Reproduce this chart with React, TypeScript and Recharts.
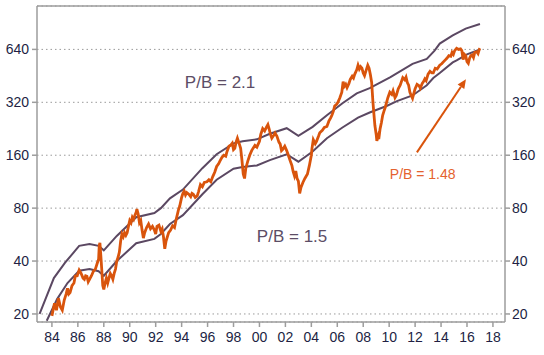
import { LineChart, Line, XAxis, YAxis, CartesianGrid, ReferenceLine, ReferenceDot } from 'recharts';

// axis ticks
const yearTicks = [1984, 1986, 1988, 1990, 1992, 1994, 1996, 1998, 2000, 2002, 2004, 2006, 2008, 2010, 2012, 2014, 2016, 2018];
const valueTicks = [20, 40, 80, 160, 320, 640];

// index level (orange)
const priceYears = [
  1984.0, 1984.2, 1984.35, 1984.5, 1984.65, 1984.8, 1984.95, 1985.1, 1985.2, 1985.3, 1985.4, 1985.55, 1985.7, 1985.8, 1985.95,
  1986.1, 1986.25, 1986.4, 1986.5, 1986.6, 1986.7, 1986.8, 1986.9, 1987.05, 1987.2, 1987.35, 1987.5, 1987.6, 1987.65, 1987.7,
  1987.78, 1987.85, 1987.92, 1988.0, 1988.1, 1988.2, 1988.3, 1988.4, 1988.5, 1988.6, 1988.7, 1988.8, 1988.9, 1989.0, 1989.1,
  1989.2, 1989.3, 1989.4, 1989.5, 1989.6, 1989.7, 1989.8, 1989.9, 1990.0, 1990.1, 1990.2, 1990.3, 1990.4, 1990.5, 1990.55,
  1990.65, 1990.75, 1990.85, 1990.95, 1991.05, 1991.15, 1991.3, 1991.45, 1991.6, 1991.75, 1991.9, 1992.0, 1992.1, 1992.25, 1992.4,
  1992.5, 1992.6, 1992.7, 1992.8, 1992.9, 1993.0, 1993.15, 1993.3, 1993.45, 1993.6, 1993.75, 1993.85, 1994.0, 1994.1, 1994.2,
  1994.3, 1994.4, 1994.55, 1994.7, 1994.8, 1994.9, 1995.05, 1995.2, 1995.3, 1995.45, 1995.6, 1995.75, 1995.95, 1996.1, 1996.25,
  1996.4, 1996.55, 1996.7, 1996.85, 1996.95, 1997.1, 1997.25, 1997.4, 1997.5, 1997.65, 1997.8, 1997.9, 1998.0, 1998.1, 1998.2,
  1998.3, 1998.45, 1998.55, 1998.65, 1998.75, 1998.85, 1998.95, 1999.1, 1999.25, 1999.4, 1999.5, 1999.65, 1999.8, 2000.0, 2000.1,
  2000.25, 2000.4, 2000.55, 2000.65, 2000.75, 2000.85, 2000.95, 2001.1, 2001.2, 2001.35, 2001.5, 2001.6, 2001.7, 2001.8, 2001.95,
  2002.1, 2002.2, 2002.35, 2002.5, 2002.6, 2002.7, 2002.8, 2002.9, 2003.0, 2003.1, 2003.2, 2003.35, 2003.5, 2003.7, 2003.85,
  2004.0, 2004.05, 2004.15, 2004.3, 2004.4, 2004.55, 2004.65, 2004.85, 2005.0, 2005.2, 2005.35, 2005.5, 2005.6, 2005.7, 2005.8,
  2005.95, 2006.05, 2006.2, 2006.35, 2006.45, 2006.55, 2006.65, 2006.75, 2006.9, 2007.0, 2007.15, 2007.25, 2007.35, 2007.5, 2007.6,
  2007.7, 2007.8, 2007.9, 2008.0, 2008.1, 2008.2, 2008.35, 2008.45, 2008.55, 2008.65, 2008.75, 2008.85, 2008.9, 2009.0, 2009.05,
  2009.15, 2009.2, 2009.3, 2009.4, 2009.5, 2009.6, 2009.7, 2009.8, 2009.9, 2010.05, 2010.2, 2010.3, 2010.45, 2010.55, 2010.7,
  2010.85, 2011.05, 2011.2, 2011.3, 2011.4, 2011.5, 2011.6, 2011.7, 2011.8, 2011.9, 2012.0, 2012.15, 2012.3, 2012.4, 2012.55,
  2012.65, 2012.75, 2012.85, 2013.0, 2013.15, 2013.3, 2013.4, 2013.55, 2013.7, 2013.9, 2014.05, 2014.2, 2014.35, 2014.45, 2014.6,
  2014.75, 2014.85, 2014.95, 2015.05, 2015.2, 2015.35, 2015.5, 2015.6, 2015.7, 2015.8, 2015.9, 2016.0, 2016.1, 2016.2, 2016.3,
  2016.4, 2016.5, 2016.6, 2016.75, 2016.85, 2016.95, 2017.0,
];
const priceValues = [
  19.5, 23, 21, 24.6, 22, 21, 24, 26, 28, 26, 26.5, 29, 30, 32.8, 33,
  35.5, 34, 32, 31.5, 33, 32.8, 30.5, 31.5, 33, 35, 36, 39, 41, 49, 50.7,
  42, 35, 29, 27.6, 30, 32, 30, 32, 34, 33, 31.5, 34, 36, 40, 42,
  45, 52, 57, 55, 58, 56, 58, 63, 68, 66, 71, 69, 73, 76, 79,
  74, 66, 68, 60, 54, 58, 62, 65, 61, 63, 60, 57, 63, 64, 59,
  61, 55, 47, 52, 55, 58, 60, 63.5, 62, 70, 78, 82, 92, 97, 100,
  95, 98, 96, 93, 97, 96, 92, 94, 99, 109, 106, 112, 113, 116, 113,
  121, 128, 138, 143, 148, 155, 160, 158, 168, 180, 183, 187, 172, 175, 190,
  200, 185, 175, 150, 125, 118, 135, 148, 160, 170, 175, 182, 178, 192, 210,
  227, 220, 232, 239, 225, 210, 200, 208, 214, 205, 190, 185, 170, 173, 180,
  170, 162, 150, 140, 129, 122, 130, 118, 114, 97, 105, 112, 118, 125, 140,
  160, 175, 196, 186, 192, 205, 215, 222, 230, 233, 250, 262, 272, 285, 305,
  312, 320, 340, 365, 420, 395, 405, 388, 410, 432, 450, 440, 463, 490, 520,
  495, 510, 500, 470, 454, 480, 520, 500, 460, 415, 320, 260, 236, 210, 193,
  205, 198, 226, 245, 270, 285, 300, 320, 340, 365, 355, 372, 340, 350, 382,
  400, 442, 430, 445, 415, 400, 365, 350, 337, 360, 382, 405, 398, 385, 410,
  420, 435, 425, 463, 480, 470, 470, 500, 495, 520, 530, 545, 560, 570, 590,
  585, 615, 600, 630, 650, 640, 645, 630, 560, 600, 590, 545, 533, 570, 590,
  595, 575, 615, 620, 605, 640, 650,
];

// P/B = 2.1 band
const upperYears = [1983.05, 1984.15, 1985.0, 1986.1, 1986.9, 1987.6, 1988.0, 1989.0, 1990.5, 1991.9, 1992.4, 1993.1, 1994.1, 1995.6, 1996.7, 1998.0, 1998.7, 1999.8, 2000.8, 2002.1, 2003.0, 2004.1, 2005.2, 2006.4, 2007.5, 2008.5, 2010.1, 2011.8, 2012.9, 2013.5, 2013.9, 2014.9, 2015.9, 2017.0];
const upperValues = [20, 32, 39, 48.8, 50, 48.8, 46, 55.6, 71, 75, 80, 91, 102, 135, 162, 187, 192, 197, 212, 228, 206, 232, 270, 316, 360, 385, 445, 530, 565, 630, 691, 768, 840, 893];

// P/B = 1.5 band
const lowerYears = [1983.6, 1984.4, 1985.2, 1986.1, 1986.9, 1987.6, 1988.0, 1989.0, 1990.5, 1991.9, 1992.4, 1993.1, 1994.1, 1995.6, 1996.7, 1998.0, 1998.7, 1999.8, 2000.8, 2002.1, 2003.0, 2004.1, 2005.2, 2006.4, 2007.6, 2008.5, 2009.8, 2010.6, 2011.8, 2012.9, 2013.4, 2013.9, 2014.9, 2015.2, 2016.0, 2017.0];
const lowerValues = [18.3, 24.3, 30, 35.2, 36, 35, 33, 40, 50.5, 53.5, 57, 65, 73, 96, 116, 134, 137, 140, 150, 162, 147, 168, 200, 230, 262, 280, 305, 325, 350, 400, 440, 470, 540, 555, 600, 640];

const toPoints = (xs: number[], ys: number[]) => xs.map((x, i) => ({ year: x, value: ys[i] }));

const FONT = '"Liberation Sans", Arial, sans-serif';
const ORANGE = '#d9540c';
const PURPLE = '#5b4862';
const FRAME = '#9d9d9d';
const tickStyle = { fill: '#221f44', fontSize: 14, fontFamily: FONT };

const Arrow = (props: any) => {
  const { x1, y1, x2, y2 } = props;
  const ang = Math.atan2(y2 - y1, x2 - x1);
  const len = 9;
  const w = 4;
  const bx = x2 - len * Math.cos(ang);
  const by = y2 - len * Math.sin(ang);
  const px = -Math.sin(ang) * w;
  const py = Math.cos(ang) * w;
  return (
    <g>
      <line x1={x1} y1={y1} x2={bx} y2={by} stroke={ORANGE} strokeWidth={2} />
      <polygon points={`${x2},${y2} ${bx + px},${by + py} ${bx - px},${by - py}`} fill={ORANGE} />
    </g>
  );
};

const note = (text: string, color: string, size: number) => (p: any) => (
  <text x={p.cx} y={p.cy} fill={color} fontSize={size} fontFamily={FONT}>{text}</text>
);

export default function App() {
  return (
    <div style={{ position: 'absolute', left: 0, top: 0, width: 544, height: 355, background: '#fff' }}>
      <LineChart width={544} height={355} margin={{ top: 6, right: 0, bottom: 0, left: 0 }}>
        <CartesianGrid yAxisId="left" vertical={false} stroke="#9a9a9a" strokeDasharray="1.5 3" />
        <XAxis
          dataKey="year"
          type="number"
          domain={[1982.85, 2018.93]}
          allowDataOverflow
          ticks={yearTicks}
          tickFormatter={(v: number) => String(v % 100).padStart(2, '0')}
          height={33}
          stroke={FRAME}
          strokeWidth={1.5}
          tickSize={5}
          tickMargin={5}
          tick={tickStyle}
        />
        <YAxis
          yAxisId="left"
          scale="log"
          domain={[18, 1130]}
          allowDataOverflow
          ticks={valueTicks}
          width={37}
          stroke={FRAME}
          strokeWidth={1.5}
          tickSize={5}
          tickMargin={3}
          tick={tickStyle}
        />
        <YAxis
          yAxisId="right"
          orientation="right"
          scale="log"
          domain={[18, 1130]}
          allowDataOverflow
          ticks={valueTicks}
          width={39}
          stroke={FRAME}
          strokeWidth={1.5}
          tickSize={5}
          tickMargin={2}
          tick={tickStyle}
        />
        <ReferenceLine yAxisId="left" y={1130} stroke={FRAME} strokeWidth={1.5} />
        <Line yAxisId="left" data={toPoints(upperYears, upperValues)} dataKey="value" stroke={PURPLE} strokeWidth={2} dot={false} isAnimationActive={false} />
        <Line yAxisId="left" data={toPoints(lowerYears, lowerValues)} dataKey="value" stroke={PURPLE} strokeWidth={2} dot={false} isAnimationActive={false} />
        <Line yAxisId="left" data={toPoints(priceYears, priceValues)} dataKey="value" stroke={ORANGE} strokeWidth={2.8} dot={false} isAnimationActive={false} />
        <ReferenceDot yAxisId="left" x={1994.25} y={388} r={0} shape={note('P/B = 2.1', '#5c4d66', 17)} />
        <ReferenceDot yAxisId="left" x={1999.8} y={51.4} r={0} shape={note('P/B = 1.5', '#5c4d66', 17)} />
        <ReferenceDot yAxisId="left" x={2010.05} y={117} r={0} shape={note('P/B = 1.48', '#e4622e', 14)} />
        <ReferenceLine yAxisId="left" segment={[{ x: 2012.14, y: 166 }, { x: 2015.92, y: 433 }]} shape={Arrow} />
      </LineChart>
    </div>
  );
}
